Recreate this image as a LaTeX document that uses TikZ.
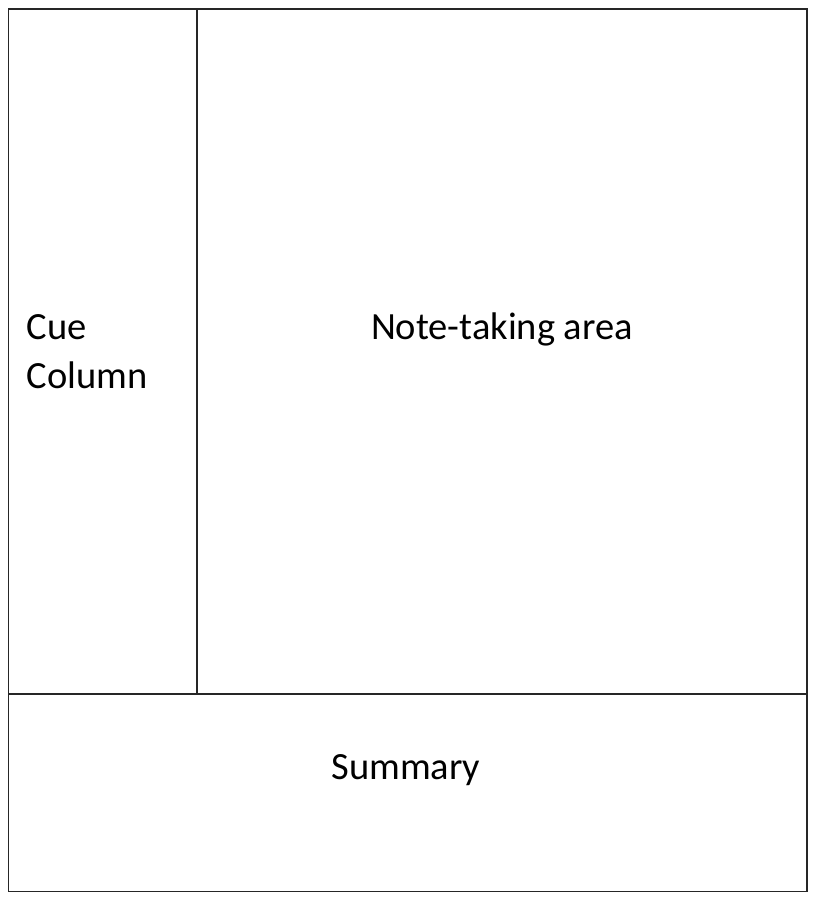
\documentclass[tikz,border=0pt]{standalone}
\usepackage{fontspec}
\setmainfont{Carlito}
\begin{document}
\begin{tikzpicture}[x=1pt,y=-1pt,
  rule/.style={draw=black!85,line width=1.3pt},
  label/.style={font=\fontsize{38.5}{42}\selectfont,inner sep=0pt}]
\useasboundingbox (0,0) rectangle (824,900);
\coordinate (tl) at (8.5,9);
\coordinate (br) at (807,891.5);
\coordinate (vtop) at (197,9);
\coordinate (vbot) at (197,694);
\coordinate (hl) at (8.5,694);
\coordinate (hr) at (807,694);
\draw[rule] (tl) rectangle (br);
\draw[rule] (vtop) -- (vbot);
\draw[rule] (hl) -- (hr);
\node[label,anchor=base west] (cue) at (26.5,339) {Cue};
\node[label,anchor=base west] (column) at (26.5,388) {Column};
\node[label,anchor=base] (notes) at (502,339) {Note-taking area};
\node[label,anchor=base] (summary) at (406,779) {Summary};
\end{tikzpicture}
\end{document}
